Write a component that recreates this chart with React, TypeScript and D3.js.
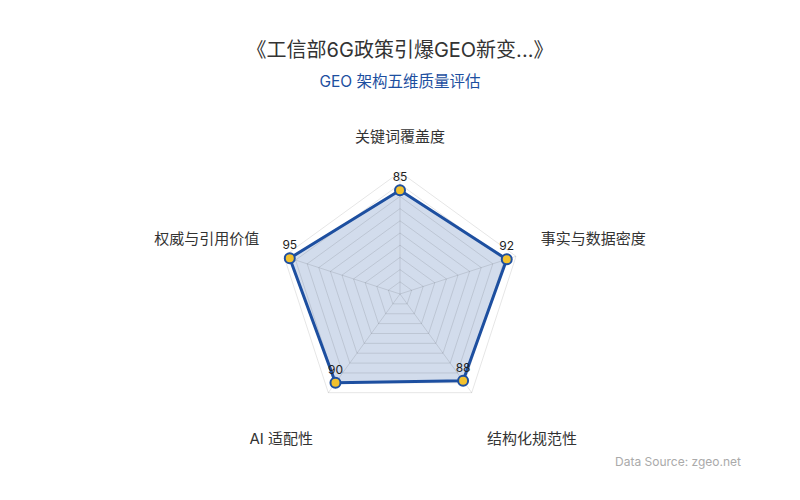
import { useEffect, useRef } from "react";
import { select, scaleLinear, lineRadial, curveLinearClosed, range } from "d3";

const indicators = ["关键词覆盖度", "事实与数据密度", "结构化规范性", "AI 适配性", "权威与引用价值"];
const scores = [85, 92, 88, 90, 95];
const maxScore = 100;
const splitNumber = 10;

const title = "《工信部6G政策引爆GEO新变...》";
const subtitle = "GEO 架构五维质量评估";
const source = "Data Source: zgeo.net";

const drawRadar = (
  ref: HTMLDivElement,
  size = { w: 800, h: 500, cx: 400, cy: 294, r: 122 }
) => {
  const canvas = select(ref);
  canvas.selectAll("svg").remove();

  const svg = canvas
    .append("svg")
    .attr("width", size.w)
    .attr("height", size.h)
    .style("display", "block")
    .style("font-family", "Inter, 'Noto Sans CJK SC', sans-serif");

  svg.append("rect").attr("width", size.w).attr("height", size.h).attr("fill", "#fff");

  svg
    .append("text")
    .attr("x", size.w / 2)
    .attr("y", 57)
    .attr("text-anchor", "middle")
    .attr("font-size", 20)
    .attr("fill", "#333")
    .text(title);

  svg
    .append("text")
    .attr("x", size.w / 2)
    .attr("y", 87)
    .attr("text-anchor", "middle")
    .attr("font-size", 15.5)
    .attr("fill", "#1d4fa0")
    .text(subtitle);

  svg
    .append("text")
    .attr("x", 741)
    .attr("y", 466)
    .attr("text-anchor", "end")
    .attr("font-size", 12)
    .attr("fill", "#aaa")
    .text(source);

  const n = indicators.length;
  const rScale = scaleLinear().domain([0, maxScore]).range([0, size.r]);
  const angle = (i: number) => (i * 2 * Math.PI) / n; // 0 = up, clockwise

  const g = svg.append("g").attr("transform", `translate(${size.cx},${size.cy})`);

  const radial = lineRadial<number>()
    .angle((_, i) => angle(i))
    .radius((d) => rScale(d))
    .curve(curveLinearClosed);

  // data area
  g.append("path")
    .datum(scores)
    .attr("d", radial)
    .attr("fill", "rgba(29,79,160,0.2)")
    .attr("stroke", "none");

  // split rings and spokes over the area
  const rings = range(1, splitNumber + 1).map((k) => (maxScore * k) / splitNumber);
  g.selectAll("path.ring")
    .data(rings)
    .join("path")
    .attr("class", "ring")
    .attr("d", (v) => radial(indicators.map(() => v)))
    .attr("fill", "none")
    .attr("stroke", "rgba(0,0,0,0.1)")
    .attr("stroke-width", 1);

  g.selectAll("line.spoke")
    .data(indicators)
    .join("line")
    .attr("class", "spoke")
    .attr("x1", 0)
    .attr("y1", 0)
    .attr("x2", (_, i) => rScale(maxScore) * Math.sin(angle(i)))
    .attr("y2", (_, i) => -rScale(maxScore) * Math.cos(angle(i)))
    .attr("stroke", "rgba(0,0,0,0.1)")
    .attr("stroke-width", 1);

  // data outline
  g.append("path")
    .datum(scores)
    .attr("d", radial)
    .attr("fill", "none")
    .attr("stroke", "#1d4fa0")
    .attr("stroke-width", 3)
    .attr("stroke-linejoin", "round");

  const px = (v: number, i: number) => rScale(v) * Math.sin(angle(i));
  const py = (v: number, i: number) => -rScale(v) * Math.cos(angle(i));

  g.selectAll("circle.pt")
    .data(scores)
    .join("circle")
    .attr("class", "pt")
    .attr("cx", (d, i) => px(d, i))
    .attr("cy", (d, i) => py(d, i))
    .attr("r", 5)
    .attr("fill", "#f2c12e")
    .attr("stroke", "#1d4fa0")
    .attr("stroke-width", 2);

  g.selectAll("text.val")
    .data(scores)
    .join("text")
    .attr("class", "val")
    .attr("x", (d, i) => px(d, i))
    .attr("y", (d, i) => py(d, i) - 9)
    .attr("text-anchor", "middle")
    .attr("font-size", 12)
    .attr("fill", "#222")
    .text((d) => d);

  // axis names
  const nameR = rScale(maxScore) + 26;
  g.selectAll("text.name")
    .data(indicators)
    .join("text")
    .attr("class", "name")
    .attr("x", (_, i) => nameR * Math.sin(angle(i)))
    .attr("y", (_, i) => -nameR * Math.cos(angle(i)))
    .attr("text-anchor", (_, i) => {
      const s = Math.sin(angle(i));
      return Math.abs(s) < 0.01 ? "middle" : s > 0 ? "start" : "end";
    })
    .attr("dy", (_, i) => (Math.cos(angle(i)) > 0 ? "-0.3em" : "2.05em"))
    .attr("font-size", 15)
    .attr("fill", "#333")
    .text((d) => d);
};

export default function App() {
  const ref = useRef<HTMLDivElement>(null);

  useEffect(() => {
    if (ref.current) drawRadar(ref.current);
  }, []);

  return <div ref={ref} style={{ width: 800, height: 500, margin: -8 }}></div>;
}
